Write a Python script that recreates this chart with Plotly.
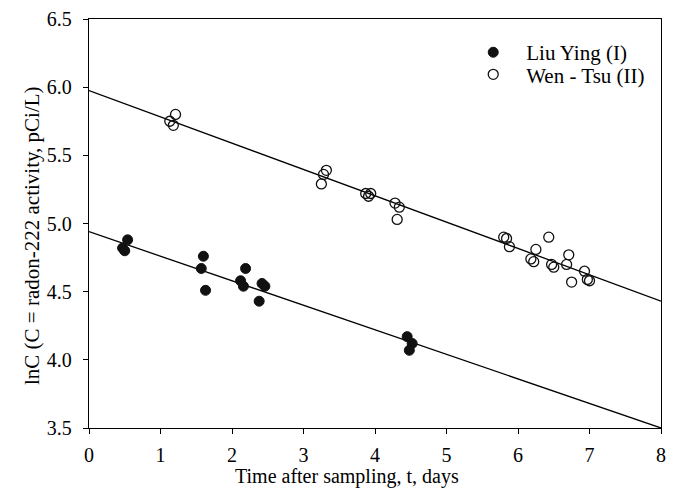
import plotly.graph_objects as go

# Liu Ying (I) - filled circles
liu_x = [0.47, 0.50, 0.54, 1.60, 1.57, 1.63, 2.19, 2.12, 2.16, 2.42, 2.46, 2.38, 4.45, 4.52, 4.48]
liu_y = [4.82, 4.80, 4.88, 4.76, 4.67, 4.51, 4.67, 4.58, 4.54, 4.56, 4.54, 4.43, 4.17, 4.12, 4.07]

# Wen - Tsu (II) - open circles
wen_x = [1.21, 1.13, 1.18, 3.32, 3.28, 3.25, 3.87, 3.91, 3.94, 4.28, 4.34, 4.31,
         5.80, 5.84, 5.88, 6.43, 6.25, 6.18, 6.22, 6.47, 6.50, 6.71, 6.68, 6.75, 6.93, 6.97, 7.00]
wen_y = [5.80, 5.75, 5.72, 5.39, 5.36, 5.29, 5.22, 5.20, 5.22, 5.15, 5.12, 5.03,
         4.90, 4.89, 4.83, 4.90, 4.81, 4.74, 4.72, 4.70, 4.68, 4.77, 4.70, 4.57, 4.65, 4.59, 4.58]

# Fitted lines (intercept, slope)
fit_x = [0, 8]
liu_fit = (4.94, -0.180)
wen_fit = (5.975, -0.193)

x_ticks = [0, 1, 2, 3, 4, 5, 6, 7, 8]
y_ticks = [3.5, 4.0, 4.5, 5.0, 5.5, 6.0, 6.5]

FONT = "Liberation Serif"

fig = go.Figure()
for (b, m) in (liu_fit, wen_fit):
    fig.add_trace(go.Scatter(x=fit_x, y=[b + m * v for v in fit_x], mode="lines",
                             line=dict(color="black", width=1.3), showlegend=False,
                             hoverinfo="skip"))

fig.add_trace(go.Scatter(x=liu_x, y=liu_y, mode="markers", name="Liu Ying (I)",
                         legend="legend",
                         marker=dict(symbol="circle", size=10, color="#111111",
                                     line=dict(color="#111111", width=1))))
fig.add_trace(go.Scatter(x=wen_x, y=wen_y, mode="markers", name="Wen - Tsu (II)",
                         legend="legend2",
                         marker=dict(symbol="circle-open", size=10, color="#111111",
                                     line=dict(color="#111111", width=1.3))))

axis_common = dict(showgrid=False, zeroline=False, showline=True, linecolor="black",
                   linewidth=1.3, mirror=True, ticks="outside", ticklen=5, tickwidth=1.2,
                   tickcolor="black", automargin=False,
                   tickfont=dict(family=FONT, size=20, color="black"))

fig.update_xaxes(range=[0, 8], tickvals=x_ticks, ticktext=[str(v) for v in x_ticks],
                 ticklabelstandoff=4, **axis_common)
fig.update_yaxes(range=[3.5, 6.5], tickvals=y_ticks, ticktext=[f"{v:.1f}" for v in y_ticks],
                 ticklabelstandoff=7, **axis_common)

leg_common = dict(xanchor="left", yanchor="top", bgcolor="rgba(0,0,0,0)",
                  font=dict(family=FONT, size=21, color="black"), itemwidth=56)

fig.update_layout(
    width=675, height=489,
    margin=dict(l=89, r=14, t=19, b=61, autoexpand=False),
    plot_bgcolor="white", paper_bgcolor="white",
    font=dict(family=FONT, size=20, color="black"),
    legend=dict(x=0.649, y=0.968, **leg_common),
    legend2=dict(x=0.649, y=0.914, **leg_common),
    annotations=[
        dict(text="Time after sampling, t, days", xref="paper", yref="paper",
             x=(347 - 89) / 572, y=-0.119, xanchor="center", yanchor="middle",
             showarrow=False, font=dict(family=FONT, size=20, color="black")),
        dict(text="lnC (C = radon-222 activity, pCi/L)", xref="paper", yref="paper",
             x=(32 - 89) / 572, y=(428 - 236) / 409, xanchor="center", yanchor="middle",
             textangle=-90, showarrow=False,
             font=dict(family=FONT, size=21, color="black")),
    ],
)

fig.write_html("out.html")
